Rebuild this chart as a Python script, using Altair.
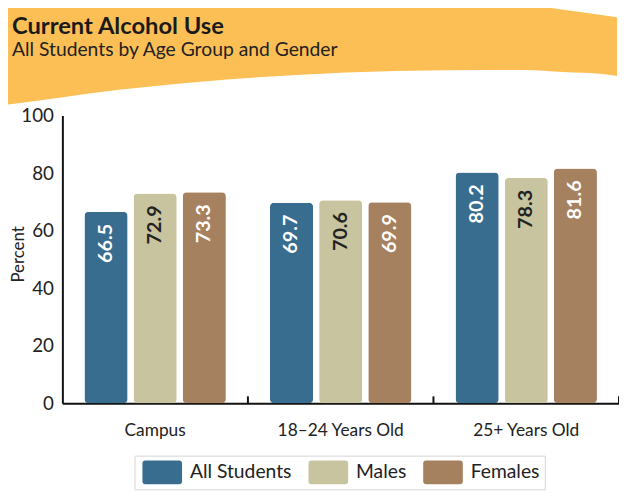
import altair as alt
import pandas as pd

# ---- data ----
categories = ["Campus", "18–24 Years Old", "25+ Years Old"]
groups = ["All Students", "Males", "Females"]
all_students = [66.5, 69.7, 80.2]
males = [72.9, 70.6, 78.3]
females = [73.3, 69.9, 81.6]
colors = ["#396D8F", "#C8C49F", "#A68160"]
y_ticks = [0, 20, 40, 60, 80, 100]

# decorative banner outline (page pixels)
banner_x = [0, 60, 120, 200, 300, 400, 500, 530, 570, 610, 624]
banner_bottom = [104, 96, 88, 80, 73, 69, 68, 68, 70, 72, 74]
banner_top = [0, 0, 0, 0, 0, 0, 0, 1.5, 7, 12.5, 14.5]

# ---- layout ----
W, H = 563, 291
PAD_L, PAD_T, PAD_R, PAD_B = 55, 106, 0, 88
PLOT_X0, PLOT_Y0 = 63, 114  # page position of plot origin

rows = []
series = {"All Students": all_students, "Males": males, "Females": females}
for g in groups:
    for c, v in zip(categories, series[g]):
        rows.append({"category": c, "group": g, "value": v, "label": f"{v:.1f}"})
df = pd.DataFrame(rows)
cat_df = pd.DataFrame({"category": categories})
banner_df = pd.DataFrame({
    "bx": [x - PLOT_X0 for x in banner_x],
    "by": [y - PLOT_Y0 for y in banner_bottom],
    "bt": [y - PLOT_Y0 for y in banner_top],
})

legend_path = ("M-1.42,-1L1.42,-1Q1.67,-1 1.67,-0.75L1.67,0.75Q1.67,1 1.42,1"
               "L-1.42,1Q-1.67,1 -1.67,0.75L-1.67,-0.75Q-1.67,-1 -1.42,-1Z")

x_enc = alt.X("category:N", sort=categories,
              scale=alt.Scale(paddingInner=0, paddingOuter=0),
              axis=alt.Axis(title=None, ticks=False, domainColor="#111111",
                            domainWidth=2, labelFontSize=17.5, labelPadding=19,
                            labelAngle=0, labelColor="#222222", grid=False))
xo_enc = alt.XOffset("group:N", sort=groups,
                     scale=alt.Scale(paddingInner=0.122, paddingOuter=0.449))
y_enc = alt.Y("value:Q", scale=alt.Scale(domain=[0, 100], nice=False),
              axis=alt.Axis(values=y_ticks, title="Percent", ticks=False,
                            domainColor="#111111", domainWidth=2,
                            gridColor="#d9d9d9", gridWidth=2,
                            labelFontSize=19, labelPadding=9, labelColor="#222222",
                            titleFontSize=17, titleFontWeight="normal",
                            titleColor="#222222", titleAngle=270,
                            titleX=-35, titleY=140))

bars = alt.Chart(df).mark_bar(cornerRadius=4).encode(
    x=x_enc, xOffset=xo_enc, y=y_enc,
    color=alt.Color("group:N", sort=groups,
                    scale=alt.Scale(domain=groups, range=colors),
                    legend=alt.Legend(orient="none", legendX=73, legendY=344,
                                      direction="horizontal", title=None,
                                      symbolType=legend_path, symbolSize=576,
                                      symbolStrokeWidth=0, symbolOpacity=1,
                                      symbolOffset=11, labelOffset=16,
                                      columnPadding=14, padding=5,
                                      labelFontSize=19.5, labelColor="#222222",
                                      strokeColor="#d6d6d6", fillColor="white")),
)

labels = alt.Chart(df).mark_text(angle=270, align="right", baseline="middle",
                                 dx=-12, fontSize=20, fontWeight="bold").encode(
    x=alt.X("category:N", sort=categories),
    xOffset=alt.XOffset("group:N", sort=groups),
    y=alt.Y("value:Q"),
    text="label:N",
    color=alt.condition(alt.datum.group == "Males", alt.value("#222222"), alt.value("#ffffff")),
)

ticks = alt.Chart(cat_df).mark_rule(color="#111111", strokeWidth=2).encode(
    x=alt.X("category:N", sort=categories, bandPosition=1),
    y=alt.datum(0), y2=alt.datum(2.4),
)

banner = alt.Chart(banner_df).mark_area(color="#FCBF55", interpolate="monotone",
                                        orient="vertical", clip=False).encode(
    x=alt.X("bx:Q", scale=alt.Scale(domain=[0, W], nice=False, zero=False), axis=None),
    y=alt.Y("by:Q", scale=alt.Scale(domain=[0, H], reverse=True, nice=False, zero=False), axis=None),
    y2="bt:Q",
)

inner = alt.layer(bars, labels, ticks)

chart = alt.layer(banner, inner).resolve_scale(
    x="independent", y="independent"
).properties(
    width=W, height=H,
    padding={"left": PAD_L, "top": PAD_T, "right": PAD_R, "bottom": PAD_B},
    autosize=alt.AutoSizeParams(type="none"),
    title=alt.TitleParams(
        text="Current Alcohol Use",
        subtitle="All Students by Age Group and Gender",
        anchor="start", frame="group", dx=-51, dy=57, offset=0,
        fontSize=24, fontWeight="bold", color="#1a1a1a",
        subtitleFontSize=19.5, subtitleColor="#222222", subtitlePadding=2,
        font="Lato", subtitleFont="Lato",
    ),
).configure(font="Lato").configure_view(stroke=None)

chart.save("out.html", embed_options={"renderer": "svg", "actions": False})
